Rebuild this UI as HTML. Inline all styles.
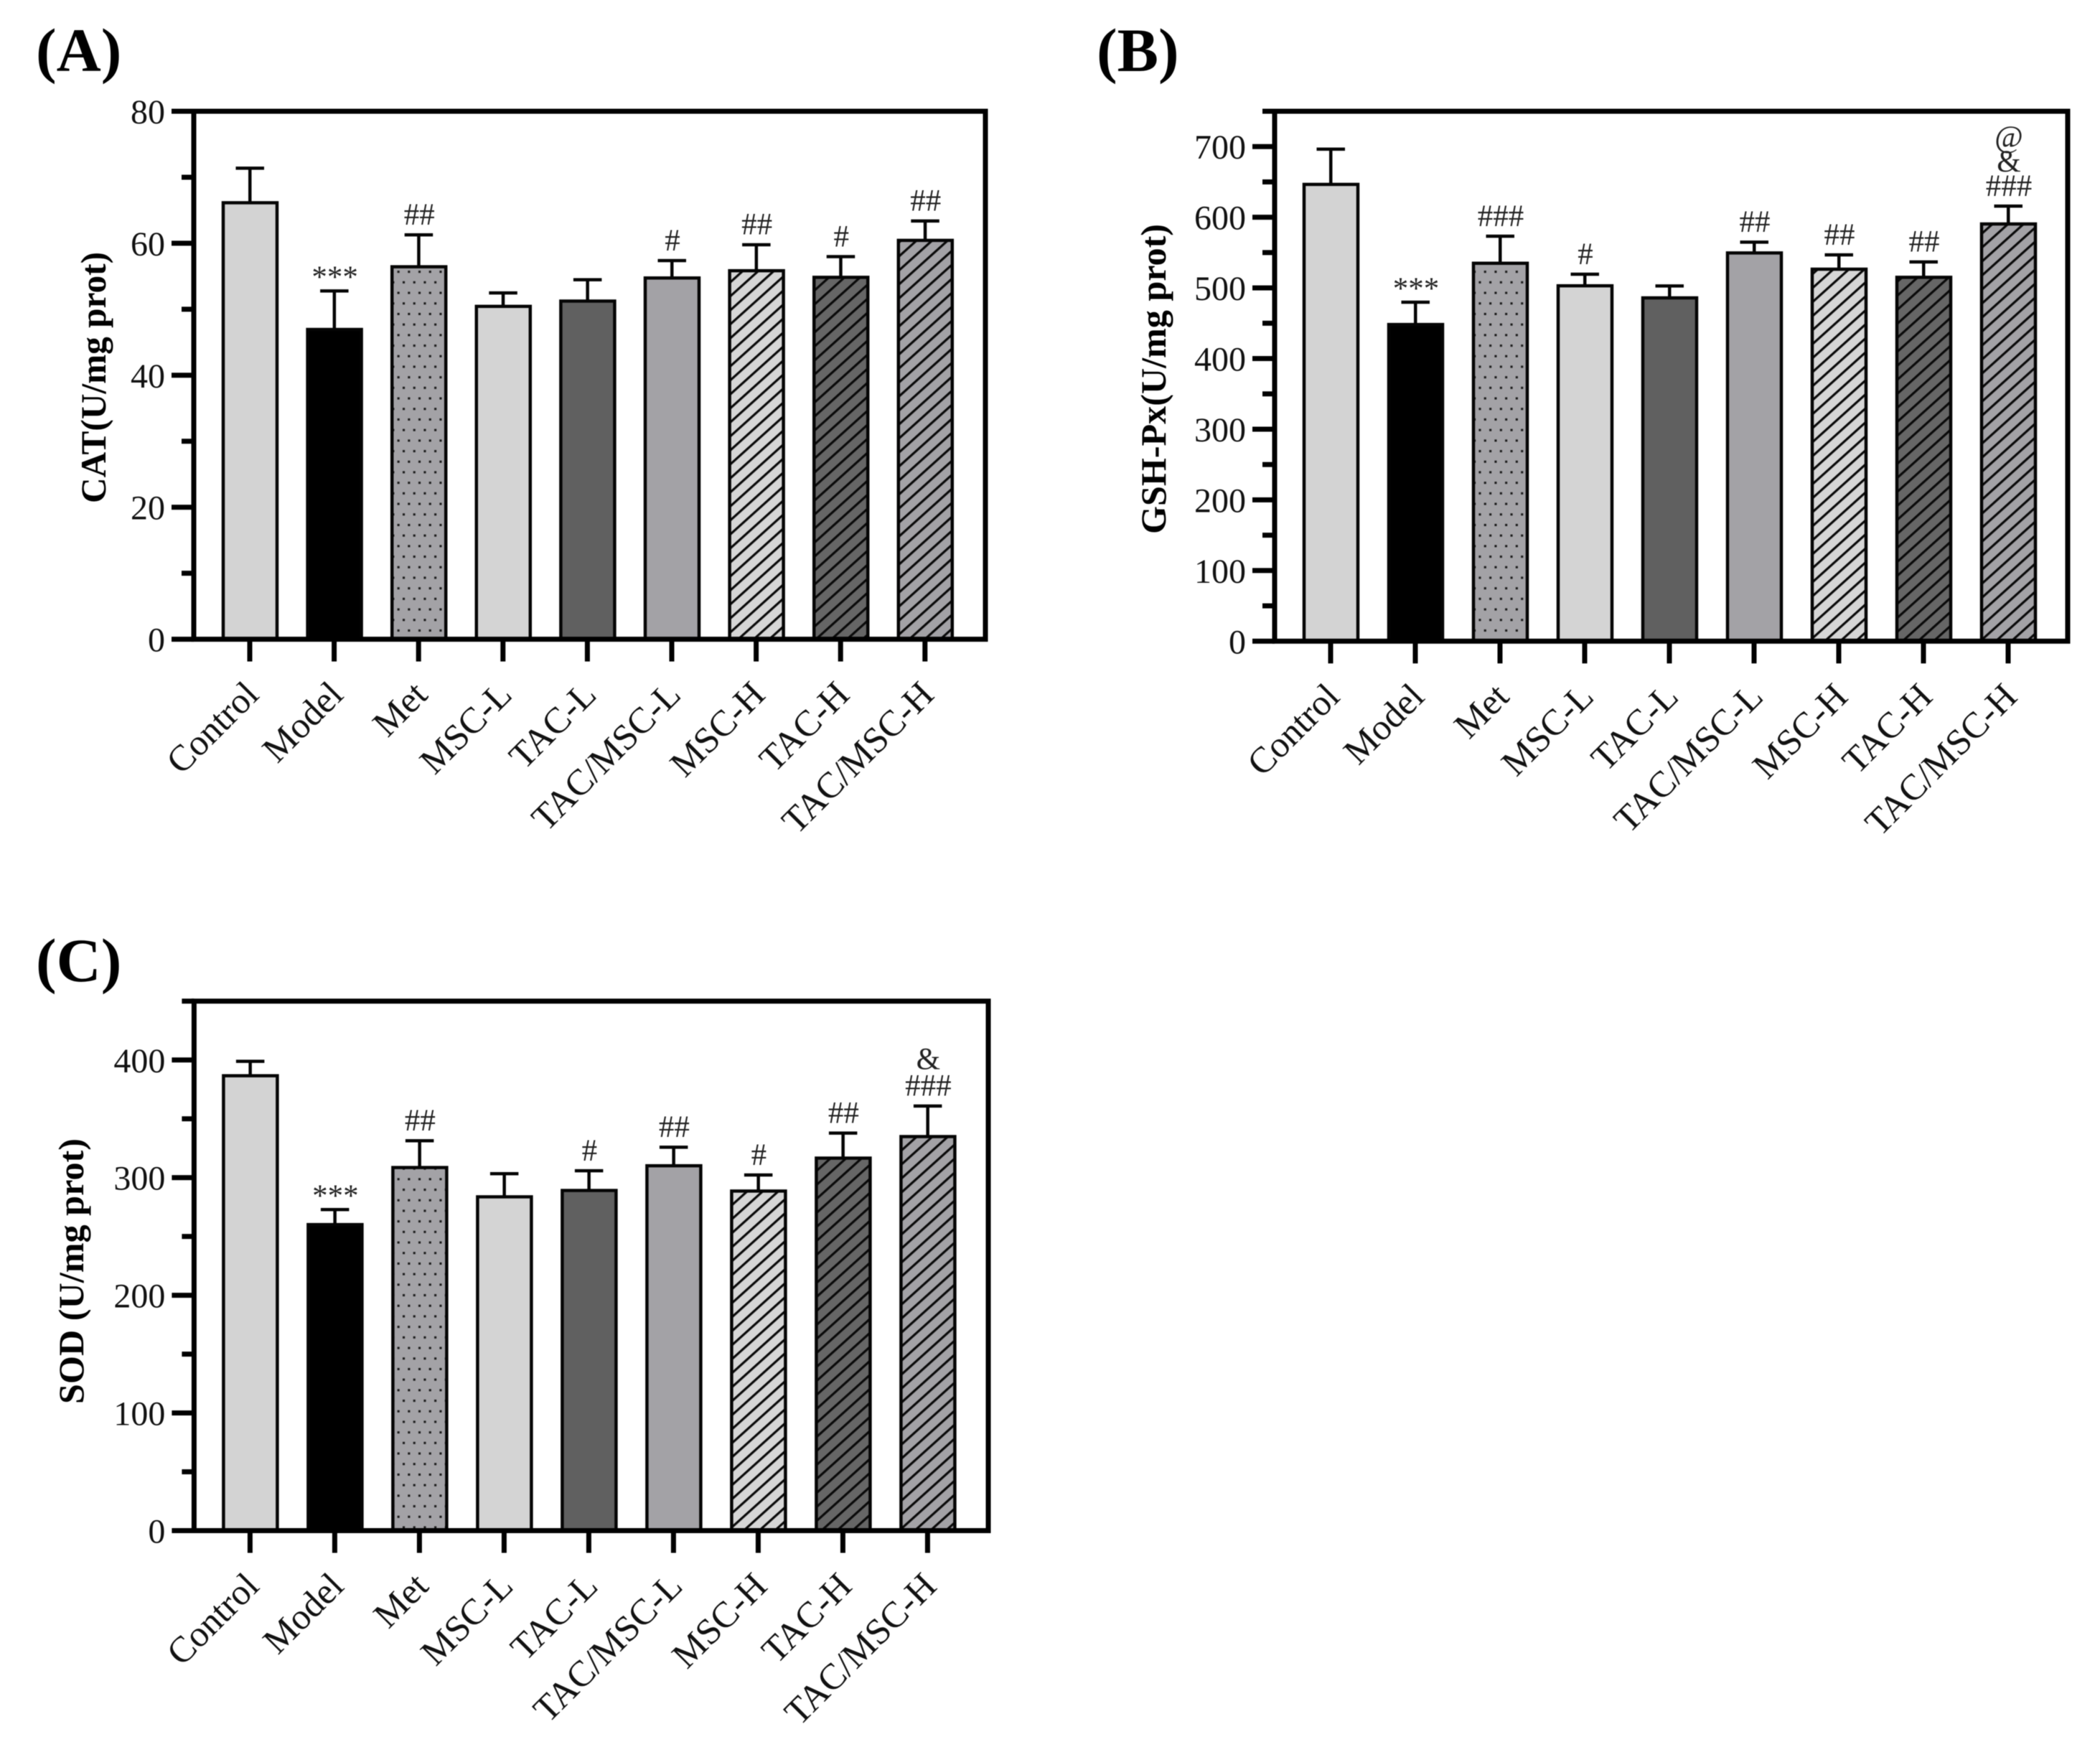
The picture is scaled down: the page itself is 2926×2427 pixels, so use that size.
<!DOCTYPE html>
<html lang="en">
<head>
<meta charset="utf-8">
<title>CAT, GSH-Px and SOD bar charts</title>
<style>
html,body{margin:0;padding:0;background:#fff;}
body{width:2926px;height:2427px;overflow:hidden;}
svg{display:block;filter:blur(0.6px);}
text{font-family:"Liberation Serif","Times New Roman",serif;fill:#111;}
.panel-label{font-size:86px;font-weight:bold;fill:#000;}
.y-title{font-size:50px;font-weight:bold;fill:#000;}
.tick-label{font-size:48px;text-anchor:end;}
.cat-label{font-size:51px;text-anchor:end;}
.annot{font-size:43px;text-anchor:middle;fill:#222;}
</style>
</head>
<body>
<svg id="fig" xmlns="http://www.w3.org/2000/svg" width="2926" height="2427" viewBox="0 0 2926 2427">
  <defs>
    <pattern id="dots" patternUnits="userSpaceOnUse" x="0" y="0" width="14.7" height="29.4">
      <rect width="14.7" height="29.4" fill="#a3a2a6"/>
      <rect x="2.4" y="9.6" width="3.1" height="3.1" fill="#1a1a1a"/>
      <rect x="9.7" y="24.3" width="3.1" height="3.1" fill="#1a1a1a"/>
    </pattern>
    <pattern id="hatch-light" patternUnits="userSpaceOnUse" width="14.5" height="14.5" patternTransform="rotate(-42)">
      <rect width="14.5" height="14.5" fill="#d6d6d6"/>
      <rect y="0" width="14.5" height="3.2" fill="#0a0a0a"/>
    </pattern>
    <pattern id="hatch-dark" patternUnits="userSpaceOnUse" width="14.5" height="14.5" patternTransform="rotate(-42)">
      <rect width="14.5" height="14.5" fill="#666666"/>
      <rect y="0" width="14.5" height="3.2" fill="#0a0a0a"/>
    </pattern>
    <pattern id="hatch-mid" patternUnits="userSpaceOnUse" width="14.5" height="14.5" patternTransform="rotate(-42)">
      <rect width="14.5" height="14.5" fill="#a3a2a6"/>
      <rect y="0" width="14.5" height="3.2" fill="#0a0a0a"/>
    </pattern>
  </defs>
  <rect x="0" y="0" width="2926" height="2427" fill="#ffffff"/>
  <g id="panel-a">
    <text class="panel-label" x="50" y="99">(A)</text>
    <text class="y-title" transform="translate(147,526) rotate(-90)" text-anchor="middle" textLength="350" lengthAdjust="spacingAndGlyphs">CAT(U/mg prot)</text>
  </g>
  <g id="panel-b">
    <text class="panel-label" x="1528" y="99">(B)</text>
    <text class="y-title" transform="translate(1624,528) rotate(-90)" text-anchor="middle" textLength="432" lengthAdjust="spacingAndGlyphs">GSH-Px(U/mg prot)</text>
  </g>
  <g id="panel-c">
    <text class="panel-label" x="50" y="1367">(C)</text>
    <text class="y-title" transform="translate(116,1771) rotate(-90)" text-anchor="middle" textLength="370" lengthAdjust="spacingAndGlyphs">SOD (U/mg prot)</text>
  </g>
</svg>
<script>
// ---------- data ----------
const categories = ["Control", "Model", "Met", "MSC-L", "TAC-L", "TAC/MSC-L", "MSC-H", "TAC-H", "TAC/MSC-H"];

const catMeans = [66.3, 47.1, 56.6, 50.6, 51.4, 54.9, 56.0, 55.0, 60.6];
const catErrors = [5.1, 5.7, 4.7, 1.9, 3.1, 2.5, 3.8, 3.0, 2.8];
const catTickLabels = ["0", "20", "40", "60", "80"];
const catMinorTicks = [10, 30, 50, 70];
const catAnnotations = [[], ["***"], ["##"], [], [], ["#"], ["##"], ["#"], ["##"]];

const gshMeans = [648, 449.7, 536.4, 504.5, 487.4, 551, 528, 516.5, 592];
const gshErrors = [48.6, 30.3, 37, 15.1, 15.6, 14, 19, 20.5, 24];
const gshTickLabels = ["0", "100", "200", "300", "400", "500", "600", "700"];
const gshMinorTicks = [50, 150, 250, 350, 450, 550, 650, 750];
const gshAnnotations = [[], ["***"], ["###"], ["#"], [], ["##"], ["##"], ["##"], ["###", "&", "@"]];

const sodMeans = [387.5, 261, 309.5, 284.6, 290, 311, 289.5, 317.5, 335.8];
const sodErrors = [11.5, 12, 22, 18.9, 16, 15, 12.9, 20.5, 25.2];
const sodTickLabels = ["0", "100", "200", "300", "400"];
const sodMinorTicks = [50, 150, 250, 350, 450];
const sodAnnotations = [[], ["***"], ["##"], [], ["#"], ["##"], ["#"], ["##"], ["###", "&"]];

// ---------- bar appearance, one per category ----------
const barFills = ["#d3d3d3", "#000000", "url(#dots)", "#d4d4d4", "#606060", "#a3a2a6", "url(#hatch-light)", "url(#hatch-dark)", "url(#hatch-mid)"];

// ---------- drawing ----------
const NS = "http://www.w3.org/2000/svg";

function shape(parent, tag, attrs) {
  const el = document.createElementNS(NS, tag);
  for (const k in attrs) el.setAttribute(k, attrs[k]);
  parent.appendChild(el);
  return el;
}

function slug(s) {
  return s.toLowerCase().replace(/\//g, "-");
}

function drawPanel(cfg) {
  const root = document.getElementById(cfg.id);
  const yScale = v => cfg.y0 + (cfg.yTop - cfg.y0) * (v / cfg.vMax);
  const xScale = i => cfg.x0 + cfg.step * i;
  const stroke = "#050505";

  // bars and error bars
  cfg.means.forEach((m, i) => {
    const cx = xScale(i);
    const yTopBar = yScale(m) + 1.5;
    const yErr = yScale(m + cfg.errors[i]);

    const stem = shape(root, "rect", {x: cx - 2, y: yErr, width: 4.5, height: yTopBar - yErr, fill: stroke});
    
    

    const cap = shape(root, "rect", {x: cx - 19.5, y: yErr - 2, width: 39.5, height: 4.5, fill: stroke});
    
    

    const bar = shape(root, "rect", {
      x: cx - 37, y: yTopBar, width: 75, height: cfg.y0 - yTopBar,
      fill: barFills[i], stroke: stroke, "stroke-width": 4.5
    });
    
    

    // significance marks, stacked upward from the error cap
    cfg.annotations[i].forEach((mark, line) => {
      const lift = mark === "***" ? 5 : 14;
      const t = shape(root, "text", {class: "annot", x: cx + 1, y: yErr - lift - line * cfg.stackGap});
      t.textContent = mark;
      
      
    });
  });

  // frame: top, right, left, baseline
  const frame = shape(root, "rect", {
    x: cfg.x0 - 78, y: cfg.yTop, width: cfg.xRight - (cfg.x0 - 78), height: cfg.y0 - cfg.yTop,
    fill: "none", stroke: "#000", "stroke-width": 7
  });
  
  

  // major y ticks and labels
  cfg.tickLabels.forEach(lbl => {
    const y = yScale(Number(lbl));
    const tick = shape(root, "rect", {x: cfg.x0 - 109, y: y - 3.5, width: 31, height: 7, fill: "#000"});
    
    

    const t = shape(root, "text", {class: "tick-label", x: cfg.x0 - 118, y: y + 17});
    t.textContent = lbl;
    
    
  });

  // minor y ticks
  cfg.minorTicks.forEach(v => {
    const y = yScale(v);
    const tick = shape(root, "rect", {x: cfg.x0 - 95, y: y - 3.5, width: 17, height: 7, fill: "#000"});
    
    
  });

  // x ticks and rotated category labels
  categories.forEach((c, i) => {
    const x = xScale(i);
    const tick = shape(root, "rect", {x: x - 3.5, y: cfg.y0, width: 7, height: 31, fill: "#000"});
    
    

    const lx = x + 15;
    const ly = cfg.y0 + 80;
    const t = shape(root, "text", {class: "cat-label", x: lx, y: ly, transform: "rotate(-45 " + lx + " " + ly + ")"});
    t.textContent = c;
    
    
  });
}

drawPanel({id: "panel-a", x0: 348, step: 117.6, xRight: 1373, y0: 890.6, yTop: 155, vMax: 80, stackGap: 34,
  means: catMeans, errors: catErrors, tickLabels: catTickLabels, minorTicks: catMinorTicks, annotations: catAnnotations});
drawPanel({id: "panel-b", x0: 1854, step: 118, xRight: 2881, y0: 893.3, yTop: 155, vMax: 750, stackGap: 34,
  means: gshMeans, errors: gshErrors, tickLabels: gshTickLabels, minorTicks: gshMinorTicks, annotations: gshAnnotations});
drawPanel({id: "panel-c", x0: 348.4, step: 118, xRight: 1377, y0: 2132.5, yTop: 1394.8, vMax: 450, stackGap: 37,
  means: sodMeans, errors: sodErrors, tickLabels: sodTickLabels, minorTicks: sodMinorTicks, annotations: sodAnnotations});
</script>
</body>
</html>
